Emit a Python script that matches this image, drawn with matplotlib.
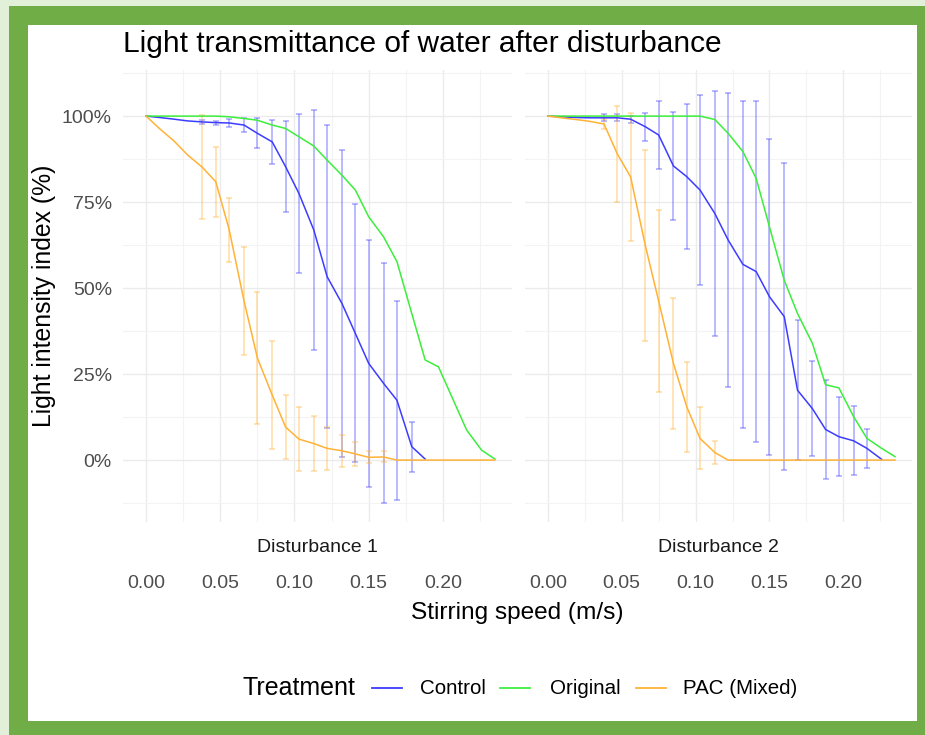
import numpy as np
import matplotlib
matplotlib.use("Agg")
import matplotlib.pyplot as plt
from matplotlib.patches import Rectangle
from matplotlib.lines import Line2D

plt.rcParams['font.family'] = ['Liberation Sans', 'DejaVu Sans']

nan = np.nan

# stirring speed (m/s)
speed = [0.000, 0.009, 0.019, 0.028, 0.038, 0.047, 0.056, 0.066, 0.075, 0.085,
         0.094, 0.103, 0.113, 0.122, 0.132, 0.141, 0.150, 0.160, 0.169, 0.179,
         0.188, 0.197, 0.207, 0.216, 0.226, 0.235]

panels = ["Disturbance 1", "Disturbance 2"]
treatments = ["Control", "Original", "PAC (Mixed)"]
colors = {"Control": "#3c3cff", "Original": "#3cee3c", "PAC (Mixed)": "#ffb236"}

# Disturbance 1
control_1 = [100, 99.6, 99.1, 98.6, 98.3, 98.1, 98.0, 97.4, 95.0, 92.5, 85.3, 77.5, 66.9,
             53.3, 45.5, 36.8, 28.1, 22.3, 17.4, 3.9, 0.3]
control_1_sd = [nan, nan, nan, nan, 0.5, 0.6, 1.2, 2.0, 4.4, 6.5, 13.3, 23.0, 35.0, 44.0,
                44.7, 37.5, 35.8, 34.9, 28.9, 7.3, nan]
original_1 = [100, 100, 100, 100, 100, 100, 99.8, 99.3, 98.8, 97.4, 96.4, 94.0, 91.3,
              87.2, 82.8, 78.5, 70.7, 64.9, 57.7, 42.6, 29.1, 27.1, 17.4, 8.7, 2.9, 0.3]
pac_1 = [100, 96.4, 92.7, 88.7, 85.1, 80.9, 67.0, 46.3, 29.7, 18.9, 9.6, 6.1, 4.8, 3.4,
         2.7, 1.8, 0.8, 0.9, 0, 0, 0, 0, 0, 0, 0, 0]
pac_1_sd = [nan, nan, nan, nan, 15.1, 10.1, 9.3, 15.7, 19.2, 15.7, 9.3, 9.3, 8.0, 6.3,
            4.6, 3.4, 1.7, 1.6, nan, nan, nan, nan, nan, nan, nan, nan]

# Disturbance 2
control_2 = [100, 99.8, 99.6, 99.5, 99.5, 99.5, 99.1, 96.9, 94.5, 85.5, 82.4, 78.5, 71.7,
             64.0, 56.9, 54.8, 47.5, 41.7, 20.3, 15.0, 8.9, 6.8, 5.6, 3.4, 0.2]
control_2_sd = [nan, nan, nan, nan, 1.0, 1.0, 1.0, 4.0, 10.0, 15.6, 21.0, 27.6, 35.6,
                42.8, 47.6, 49.5, 45.9, 44.6, 20.3, 13.8, 14.4, 11.5, 10.0, 5.7, nan]
original_2 = [100, 100, 100, 100, 100, 100, 100, 100, 100, 100, 100, 100, 99.0, 95.0,
              89.7, 81.9, 67.8, 52.3, 42.6, 34.0, 21.9, 21.0, 12.6, 6.3, 3.4, 1.0]
pac_2 = [100, 99.5, 99.0, 98.5, 97.7, 89.0, 82.3, 62.3, 46.2, 28.1, 15.5, 6.3, 2.2, 0,
         0, 0, 0, 0, 0, 0, 0, 0, 0, 0, 0, 0]
pac_2_sd = [nan, nan, nan, nan, 1.5, 14.0, 18.6, 27.7, 26.5, 19.1, 13.1, 9.0, 3.4, nan,
            nan, nan, nan, nan, nan, nan, nan, nan, nan, nan, nan, nan]

data = {
    "Disturbance 1": {"Control": (control_1, control_1_sd),
                      "Original": (original_1, None),
                      "PAC (Mixed)": (pac_1, pac_1_sd)},
    "Disturbance 2": {"Control": (control_2, control_2_sd),
                      "Original": (original_2, None),
                      "PAC (Mixed)": (pac_2, pac_2_sd)},
}

W, H = 925, 735
fig = plt.figure(figsize=(W / 100, H / 100), dpi=100)
fig.patch.set_facecolor("#e2efd9")


def px(x0, y0, x1, y1):
    # pixel box (top-left origin) -> figure fraction rect
    return [x0 / W, 1 - y1 / H, (x1 - x0) / W, (y1 - y0) / H]


# screenshot frame
fig.patches.append(Rectangle((9 / W, 0), 1, 1 - 6 / H, transform=fig.transFigure,
                             facecolor="#70ad47", edgecolor="none", zorder=-2))
fig.patches.append(Rectangle((28 / W, 1 - 721 / H), (917 - 28) / W, (721 - 25) / H,
                             transform=fig.transFigure, facecolor="white",
                             edgecolor="none", zorder=-1))

boxes = [(123, 70, 512, 522), (525, 70, 912, 522)]
grid_col = "#ebebeb"
tick_fs = 14

for panel, box in zip(panels, boxes):
    ax = fig.add_axes(px(*box))
    ax.set_facecolor("none")
    for s in ax.spines.values():
        s.set_visible(False)
    ax.set_xlim(-0.0155, 0.2465)
    ax.set_ylim(-18.0, 113.4)
    ax.set_xticks([0, 0.05, 0.10, 0.15, 0.20])
    ax.set_xticks([0.025, 0.075, 0.125, 0.175, 0.225], minor=True)
    ax.set_yticks([0, 25, 50, 75, 100])
    ax.set_yticks([-12.5, 12.5, 37.5, 62.5, 87.5, 112.5], minor=True)
    ax.grid(True, which="major", color=grid_col, lw=1.0)
    ax.grid(True, which="minor", color="#f3f3f3", lw=0.8)
    ax.set_axisbelow(True)
    ax.tick_params(which="both", length=0)
    ax.set_xticklabels([])
    if panel == panels[0]:
        ax.set_yticklabels(["0%", "25%", "50%", "75%", "100%"], color="#4d4d4d",
                           fontsize=tick_fs)
        ax.tick_params(axis="y", pad=8)
    else:
        ax.set_yticklabels([])

    for t in treatments:
        vals, sd = data[panel][t]
        x = speed[:len(vals)]
        if sd is not None:
            v = np.array(vals, dtype=float)
            e = np.array(sd, dtype=float)
            ok = ~np.isnan(e)
            ax.errorbar(np.array(x)[ok], v[ok], yerr=e[ok], fmt="none",
                        ecolor=colors[t], alpha=0.45, elinewidth=1.1,
                        capsize=2, capthick=1.1, zorder=2)
        ax.plot(x, vals, color=colors[t], lw=1.1, zorder=3)

    # strip label and tick labels below panel
    cx = (box[0] + box[2]) / 2
    fig.text(cx / W, 1 - 547 / H, panel, ha="center", va="center",
             fontsize=tick_fs, color="#1a1a1a")
    for tv, lab in zip([0, 0.05, 0.10, 0.15, 0.20], ["0.00", "0.05", "0.10", "0.15", "0.20"]):
        xf = ax.transData.transform((tv, 0))[0] / fig.dpi / fig.get_figwidth()
        fig.text(xf, 1 - 583 / H, lab, ha="center", va="center",
                 fontsize=tick_fs, color="#4d4d4d")

fig.text(123 / W, 1 - 44 / H, "Light transmittance of water after disturbance",
         ha="left", va="center", fontsize=21.5, color="black")
fig.text(44 / W, 1 - 296 / H, "Light intensity index (%)", rotation=90,
         ha="center", va="center", fontsize=17.8, color="black")
fig.text(517 / W, 1 - 613 / H, "Stirring speed (m/s)", ha="center", va="center",
         fontsize=17.6, color="black")

# legend
ly = 1 - 688 / H
fig.text(243 / W, ly, "Treatment", ha="left", va="center", fontsize=18)
keys = [(372, 420), (500, 550), (636, 683)]
for t, (kx, tx) in zip(treatments, keys):
    fig.add_artist(Line2D([kx / W, (kx + 30) / W], [ly, ly], color=colors[t], lw=1.3,
                          transform=fig.transFigure))
    fig.text(tx / W, ly, t, ha="left", va="center", fontsize=14.8, color="black")

fig.savefig("out.png", dpi=100)
